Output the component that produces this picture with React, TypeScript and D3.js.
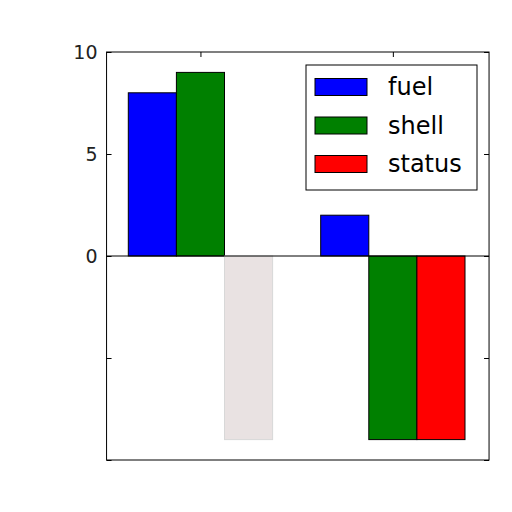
import { useRef, useEffect } from "react";
import * as d3 from "d3";

const categories = [0, 1];
const series = ["fuel", "shell", "status"];
const seriesColors = ["#0000ff", "#008000", "#ff0000"];
const fuelValues = [8, 2];
const shellValues = [9, -9];
const statusValues = [-9, -9];
const yTickValues = [-10, -5, 0, 5, 10];
const yTickLabels = ["", "", "0", "5", "10"];
// the first "status" bar is almost washed out in the picture
const washedOut = [[false, false, true], [false, false, false]];

const svg_width = 512;
const svg_height = 512;
const barWidth = 0.25;
const [x_min, x_max] = [-0.488, 1.5];

export default function App() {
    const ref = useRef(null);

    useEffect(() => {
        const svg = d3.select(ref.current);
        svg.selectAll("*").remove();

        const x = d3.scaleLinear().domain([-0.375, 1.375]).range([128.3, 465]);
        const y = d3.scaleLinear().domain([-10, 10]).range([460, 52]);

        svg.append("rect")
            .attr("width", svg_width)
            .attr("height", svg_height)
            .attr("fill", "white");

        const values = [fuelValues, shellValues, statusValues];

        series.forEach((name, si) => {
            svg.append("g")
                .selectAll("rect")
                .data(categories)
                .join("rect")
                    .attr("x", c => x(c - 1.5 * barWidth + si * barWidth))
                    .attr("width", x(barWidth) - x(0))
                    .attr("y", (c, i) => y(Math.max(0, values[si][i])))
                    .attr("height", (c, i) => Math.abs(y(values[si][i]) - y(0)))
                    .attr("fill", (c, i) => washedOut[i][si] ? "#e9e2e2" : seriesColors[si])
                    .attr("stroke", (c, i) => washedOut[i][si] ? "#d8d8d8" : "black")
                    .attr("stroke-width", 1);
        });

        // zero line
        svg.append("line")
            .attr("x1", x(x_min)).attr("x2", x(x_max))
            .attr("y1", y(0)).attr("y2", y(0))
            .attr("stroke", "black");

        // frame
        svg.append("rect")
            .attr("x", x(x_min))
            .attr("y", y(10))
            .attr("width", x(x_max) - x(x_min))
            .attr("height", y(-10) - y(10))
            .attr("fill", "none")
            .attr("stroke", "black");

        const left = svg.append("g")
            .attr("transform", `translate(${x(x_min)},0)`)
            .call(d3.axisLeft(y).tickValues(yTickValues).tickSize(-5).tickPadding(9)
                .tickFormat((d, i) => yTickLabels[i]));
        left.select(".domain").remove();
        left.selectAll("text")
            .attr("font-family", "DejaVu Sans")
            .attr("font-size", 19)
            .attr("fill", "#222");

        const right = svg.append("g")
            .attr("transform", `translate(${x(x_max)},0)`)
            .call(d3.axisRight(y).tickValues(yTickValues).tickSize(-5).tickFormat(() => ""));
        right.select(".domain").remove();

        const top = svg.append("g")
            .attr("transform", `translate(0,${y(10)})`)
            .call(d3.axisTop(x).tickValues(categories).tickSize(-5).tickFormat(() => ""));
        top.select(".domain").remove();

        // legend
        const legend = svg.append("g").attr("transform", "translate(306,65)");
        legend.append("rect")
            .attr("width", 171)
            .attr("height", 125)
            .attr("fill", "white")
            .attr("stroke", "black");
        series.forEach((name, si) => {
            const cy = 22 + si * 38.5;
            legend.append("rect")
                .attr("x", 9)
                .attr("y", cy - 8.5)
                .attr("width", 52)
                .attr("height", 17)
                .attr("fill", seriesColors[si])
                .attr("stroke", "black");
            legend.append("text")
                .attr("x", 82)
                .attr("y", cy)
                .attr("dy", "0.35em")
                .attr("font-family", "DejaVu Sans")
                .attr("font-size", 24)
                .attr("fill", "black")
                .text(name);
        });
    }, [ref]);

    return (
        <svg ref={ref} width={svg_width} height={svg_height}
            style={{ position: "absolute", left: 0, top: 0 }} />
    );
}
